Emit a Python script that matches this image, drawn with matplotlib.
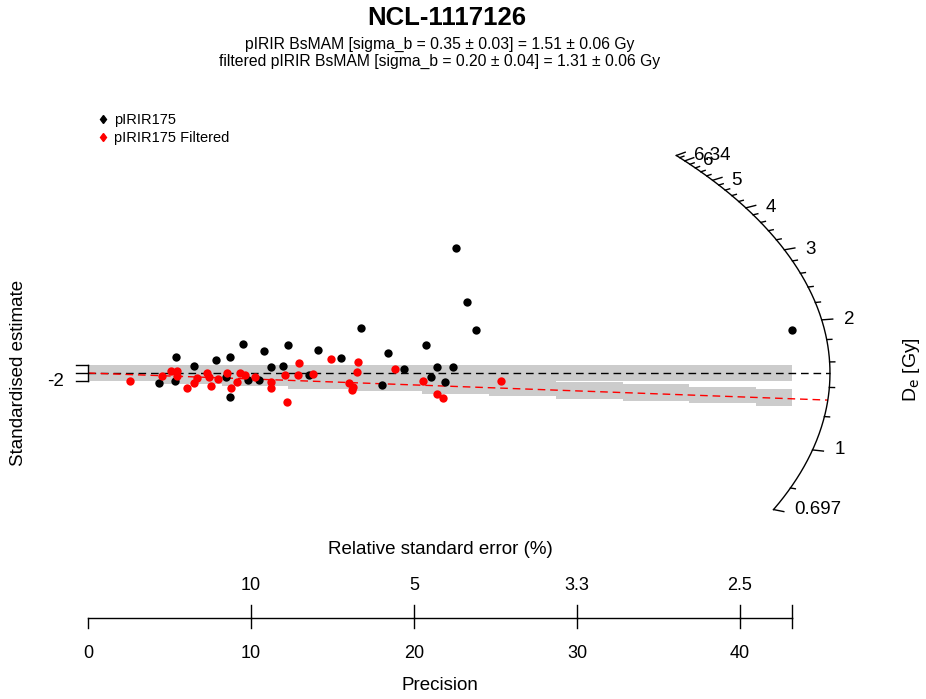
"""
Radial plot (pIRIR175, NCL-1117126) redrawn with matplotlib.
"""
import numpy as np
import matplotlib
matplotlib.use("Agg")
import matplotlib.pyplot as plt

plt.rcParams["font.family"] = ["Liberation Sans", "DejaVu Sans"]

# --- data: precision (1/rel. error) and z-score ---
black_prec = [4.36, 5.40, 5.34, 6.50, 7.85, 8.47, 8.71, 8.71, 9.51, 9.82, 10.49, 10.80,
              11.23, 11.96, 12.27, 13.56, 14.11, 15.52, 16.75, 18.04, 18.40, 19.39,
              20.74, 21.04, 21.41, 21.90, 22.39, 22.58, 23.25, 23.80, 43.19]
black_z = [-2.38, 3.81, -1.90, 1.67, 3.10, -0.95, 3.81, -5.71, 6.90, -1.67, -1.67, 5.24,
           1.43, 1.67, 6.67, -0.48, 5.48, 3.57, 10.71, -2.86, 4.76, 0.95,
           6.67, -0.95, 1.43, -2.14, 1.43, 29.76, 16.90, 10.24, 10.24]
red_prec = [2.58, 4.54, 5.09, 5.46, 5.46, 6.07, 6.50, 6.69, 7.30, 7.42, 7.55, 7.98,
            8.53, 8.77, 9.14, 9.33, 9.63, 10.25, 11.23, 11.23, 12.09, 12.21, 12.88,
            12.94, 13.80, 14.91, 16.01, 16.20, 16.26, 16.50, 16.56, 18.83, 20.55,
            21.41, 21.78, 25.34]
red_z = [-1.90, -0.71, 0.48, 0.48, -0.71, -3.57, -2.38, -1.19, 0.0, -0.95, -3.10, -1.43,
         0.0, -3.57, -2.14, 0.0, -0.48, -0.95, -2.14, -3.57, -0.48, -6.90, -0.48,
         2.38, -0.24, 3.33, -2.38, -4.05, -3.33, 0.24, 2.62, 0.95, -1.90,
         -5.00, -5.95, -1.90]

de_central = 1.51       # pIRIR BsMAM
de_central_f = 1.31     # filtered
de_lo, de_hi = 0.697, 6.34
de_major = [1, 2, 3, 4, 5, 6]
de_minor = [0.8, 1.2, 1.4, 1.6, 1.8, 2.2, 2.4, 2.6, 2.8, 3.2, 3.4, 3.6, 3.8,
            4.2, 4.4, 4.6, 4.8, 5.2, 5.4, 5.6, 5.8, 6.2]
prec_ticks = [0, 10, 20, 30, 40]
rse_ticks = [10, 20, 30, 40]

# --- layout: one axes covering the whole figure, data units ---
W, H = 926, 699
PX, PY = 16.3, 4.2          # pixels per precision unit / per z unit
X0, Y0 = 88, 373            # pixel position of the origin
A, B = 45.52, 85.0          # arc half-axes (data units)

fig = plt.figure(figsize=(W / 100, H / 100), dpi=100)
ax = fig.add_axes([0, 0, 1, 1])
ax.set_xlim(-X0 / PX, (W - X0) / PX)
ax.set_ylim((Y0 - H) / PY, Y0 / PY)
ax.axis("off")

z0 = np.log(de_central)
xmax = max(black_prec)


def arc_point(de, k=1.0):
    s = np.log(de) - z0
    x = 1.0 / np.sqrt(1 / A ** 2 + s ** 2 / B ** 2)
    return k * x, k * s * x


# grey 2-sigma bands
grey = "#cccccc"
ax.fill_between([0, xmax], [-2, -2], [2, 2], color=grey, lw=0, zorder=1)
slope_f = np.log(de_central_f) - z0
edges = np.append(np.arange(0, xmax, 4.1), xmax)
for a, b in zip(edges[:-1], edges[1:]):
    ax.fill_between([a, b], slope_f * a - 2, slope_f * a + 2, color=grey, lw=0, zorder=1)

# central lines out to the arc
for de, col in [(de_central, "black"), (de_central_f, "red")]:
    xe, ye = arc_point(de)
    ax.plot([0, xe], [0, ye], ls=(0, (5.5, 3.5)), color=col, lw=1, zorder=2)

# points
ax.plot(black_prec, black_z, "o", color="black", ms=6, mec="none", zorder=3)
ax.plot(red_prec, red_z, "o", color="red", ms=6, mec="none", zorder=4)

# arc
t = np.linspace(np.log(de_lo), np.log(de_hi), 300)
ax_x, ax_y = arc_point(np.exp(t))
ax.plot(ax_x, ax_y, color="black", lw=1)
for de in de_major + [de_lo, de_hi]:
    x1, y1 = arc_point(de)
    x2, y2 = arc_point(de, 1.015)
    ax.plot([x1, x2], [y1, y2], color="black", lw=1)
    ax.text(x1 * 1.03, y1, f"{de:g}", ha="left", va="center", fontsize=13.5)
for de in de_minor:
    x1, y1 = arc_point(de)
    x2, y2 = arc_point(de, 1.007)
    ax.plot([x1, x2], [y1, y2], color="black", lw=1)

# left bracket (standardised estimate axis)
tk = 12 / PX
ax.plot([0, 0], [-2, 2], color="black", lw=1)
for v in [-2, 0, 2]:
    ax.plot([-tk, 0], [v, v], color="black", lw=1)
ax.text(-24 / PX, -2, "-2", ha="right", va="center", fontsize=13.5)
ax.text(-69 / PX, 0, "Standardised estimate", rotation=90, ha="center", va="center",
        fontsize=13.5)

# bottom precision / relative error axis
ya = (Y0 - 618) / PY
up, dn = 13 / PY, 10 / PY
ax.plot([0, xmax], [ya, ya], color="black", lw=1)
for p in prec_ticks + [xmax]:
    ax.plot([p, p], [ya, ya - dn], color="black", lw=1)
for p in rse_ticks + [xmax]:
    ax.plot([p, p], [ya, ya + up], color="black", lw=1)
for p in prec_ticks:
    ax.text(p, (Y0 - 653) / PY, f"{p}", ha="center", va="center", fontsize=13)
for p in rse_ticks:
    ax.text(p, (Y0 - 585) / PY, f"{round(100 / p, 1):g}", ha="center", va="center",
            fontsize=13)
ax.text(440 / PX - X0 / PX, (Y0 - 550) / PY, "Relative standard error (%)",
        ha="center", va="center", fontsize=13.5)
ax.text(440 / PX - X0 / PX, (Y0 - 686) / PY, "Precision", ha="center", va="center",
        fontsize=13.5)

# De axis label
fig.text(912 / W, 1 - 370 / H, r"D$_{\mathrm{e}}$ [Gy]", rotation=90, ha="center",
         va="center", fontsize=14)

# titles
fig.text(447 / W, 1 - 18 / H, "NCL-1117126", ha="center", va="center",
         fontsize=18.5, fontweight="bold")
fig.text(440 / W, 1 - 44 / H, "pIRIR BsMAM [sigma_b = 0.35 ± 0.03] = 1.51 ± 0.06 Gy",
         ha="center", va="center", fontsize=11.3)
fig.text(440 / W, 1 - 61 / H, "filtered pIRIR BsMAM [sigma_b = 0.20 ± 0.04] = 1.31 ± 0.06 Gy",
         ha="center", va="center", fontsize=11.3)

# legend
h1, = ax.plot([], [], "d", color="black", ms=4.5)
h2, = ax.plot([], [], "d", color="red", ms=4.5)
ax.legend([h1, h2], ["pIRIR175", "pIRIR175 Filtered"], loc="upper left",
          bbox_to_anchor=(91 / W, 1 - 106 / H), frameon=False, fontsize=10.5,
          handlelength=0.6, handletextpad=0.5, labelspacing=0.25, borderpad=0)

fig.savefig("out.png", dpi=100)
